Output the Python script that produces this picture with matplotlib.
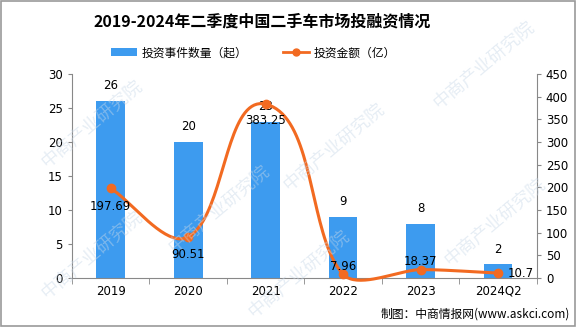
import numpy as np
import matplotlib
matplotlib.use("Agg")
import matplotlib.pyplot as plt
from matplotlib.lines import Line2D
from matplotlib.patches import Patch, Rectangle

plt.rcParams['font.family'] = ['Noto Sans CJK SC', 'DejaVu Sans']

anos = ['2019', '2020', '2021', '2022', '2023', '2024Q2']
eventos = [26, 20, 23, 9, 8, 2]                       # 投资事件数量（起）
valores = [197.69, 90.51, 383.25, 7.96, 18.37, 10.7]  # 投资金额（亿）

cor_barra = '#3D9BEF'
cor_linha = '#F26A21'


def curva_suave(x, y, sx, sy, fator=0.55, passos=40):
    # bezier cúbica por segmento; tangentes calculadas em pixels (sx, sy = px por unidade)
    p = np.column_stack([np.asarray(x, float) * sx, np.asarray(y, float) * sy])
    n = len(p)
    tang = []
    for i in range(n):
        a = p[max(i - 1, 0)]
        b = p[min(i + 1, n - 1)]
        d = b - a
        tang.append(d / np.hypot(*d))
    t = np.linspace(0, 1, passos)
    pts = []
    for i in range(n - 1):
        p0, p3 = p[i], p[i + 1]
        corda = np.hypot(*(p3 - p0))
        p1 = p0 + tang[i] * corda * fator / 2
        p2 = p3 - tang[i + 1] * corda * fator / 2
        b = ((1 - t) ** 3)[:, None] * p0 + (3 * (1 - t) ** 2 * t)[:, None] * p1 \
            + (3 * (1 - t) * t ** 2)[:, None] * p2 + (t ** 3)[:, None] * p3
        pts.append(b)
    pts = np.vstack(pts)
    return pts[:, 0] / sx, pts[:, 1] / sy


fig = plt.figure(figsize=(5.76, 3.27), dpi=100)
fig.patch.set_facecolor('white')
fig.patches.append(Rectangle((0.001, 0.002), 0.997, 0.996, transform=fig.transFigure,
                             fill=False, edgecolor='#9a9a9a', linewidth=1.2))

# marca d'água
for wx, wy in [(0.84, 0.80), (0.16, 0.62), (0.58, 0.55), (0.38, 0.36),
               (0.16, 0.22), (0.52, 0.16), (0.86, 0.32)]:
    fig.text(wx, wy, '中商产业研究院', rotation=40, fontsize=13, color='#c8d8e8',
             alpha=0.45, ha='center', va='center', zorder=0)

ax = fig.add_axes([0.125, 0.150, 0.807, 0.624])
ax.set_facecolor('none')
x = np.arange(len(anos))

barras = ax.bar(x, eventos, width=0.37, color=cor_barra, zorder=2)
for xi, v in zip(x, eventos):
    ax.text(xi, v + 1.3, str(v), ha='center', va='bottom', fontsize=8.5,
            family='DejaVu Sans', zorder=5)

ax.set_xlim(-0.5, len(anos) - 0.5)
ax.set_ylim(0, 30)
ax.set_yticks(range(0, 31, 5))
ax.set_xticks(x)
ax.set_xticklabels(anos)
ax.set_xticks(np.arange(-0.5, len(anos), 1), minor=True)
ax.tick_params(axis='x', which='major', length=0, pad=5, labelsize=8.5)
ax.tick_params(axis='x', which='minor', length=4, color='#888888')
ax.tick_params(axis='y', length=3, color='#888888', labelsize=8.5)
for lab in ax.get_xticklabels() + ax.get_yticklabels():
    lab.set_family('DejaVu Sans')
for lado in ['top', 'right']:
    ax.spines[lado].set_visible(False)
ax.spines['left'].set_color('#888888')
ax.spines['bottom'].set_color('#888888')

ax2 = ax.twinx()
ax2.set_ylim(0, 450)
ax2.set_yticks(range(0, 451, 50))
ax2.tick_params(axis='y', length=3, color='#888888', labelsize=8.5)
for lab in ax2.get_yticklabels():
    lab.set_family('DejaVu Sans')
for lado in ['top', 'left', 'bottom']:
    ax2.spines[lado].set_visible(False)
ax2.spines['right'].set_color('#888888')

# escala em pixels: ~77.5 px por categoria, 204 px para 450
cx, cy = curva_suave(x, valores, 77.5, 204 / 450)
ax2.plot(cx, cy, color=cor_linha, linewidth=2.2, clip_on=False, zorder=3)
ax2.plot(x, valores, 'o', color=cor_linha, markersize=6, clip_on=False, zorder=4)

# posição dos rótulos da linha (deslocamento em pontos)
desloc = [(0, -13), (0, -13), (0, -12), (0, 6), (0, 6), (16, 0)]
for xi, v, (dx, dy) in zip(x, valores, desloc):
    ax2.annotate(f'{v:g}', (xi, v), xytext=(dx, dy), textcoords='offset points',
                 ha='center', va='center', fontsize=8.5, family='DejaVu Sans', zorder=5)

fig.text(0.455, 0.935, '2019-2024年二季度中国二手车市场投融资情况', ha='center', va='center',
         fontsize=11.5, fontweight='bold')

handles = [Patch(facecolor=cor_barra, label='投资事件数量（起）'),
           Line2D([0], [0], color=cor_linha, linewidth=2, marker='o', markersize=5,
                  label='投资金额（亿）')]
fig.legend(handles=handles, loc='center', bbox_to_anchor=(0.44, 0.838), ncol=2,
           frameon=False, fontsize=8.5, handlelength=2.2, columnspacing=3,
           handletextpad=0.4)

fig.text(0.99, 0.04, '制图：中商情报网(www.askci.com)', ha='right', va='center', fontsize=8.5)

fig.savefig('out.png', dpi=100)
